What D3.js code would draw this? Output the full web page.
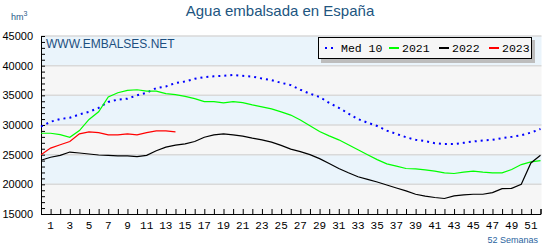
<!DOCTYPE html>
<html lang="es">
<head>
<meta charset="UTF-8">
<title>Agua embalsada en España</title>
<script src="https://d3js.org/d3.v7.min.js"></script>
<style>
    body { margin: 0; background: #fff; }
    svg { display: block; font-family: Arial, "Liberation Sans", sans-serif; }
    .mono { font-family: "Liberation Mono", "DejaVu Sans Mono", monospace; }
</style>
</head>
<body>
<svg width="560" height="250"></svg>
<script>
// weeks 0..52
const weeks = d3.range(0, 53);

const med10 = [29730, 30550, 31000, 31220, 31780, 32220, 32890, 33890, 34280, 34440,
    35000, 35440, 36220, 36500, 37060, 37330, 37780, 38060, 38220, 38280,
    38440, 38280, 38170, 37830, 37560, 37110, 36720, 35940, 35280, 34720,
    33720, 32890, 31940, 31000, 30390, 29830, 29060, 28500, 27940, 27500,
    27280, 26940, 26780, 26800, 27000, 27220, 27390, 27500, 27780, 28000,
    28280, 28720, 29330];

const y2021 = [28610, 28610, 28390, 27940, 29060, 30940, 32220, 34720, 35440, 35830,
    35940, 35720, 35720, 35280, 35110, 34830, 34440, 33940, 33940, 33720,
    33940, 33780, 33390, 33060, 32720, 32220, 31670, 30830, 29890, 28890,
    28170, 27500, 26670, 25830, 25000, 24170, 23450, 23060, 22670, 22610,
    22440, 22220, 21940, 21830, 22060, 22220, 22060, 21940, 21940, 22500,
    23330, 23780, 24000];

const y2022 = [24060, 24560, 24890, 25440, 25280, 25110, 24940, 24890, 24780, 24780,
    24670, 24890, 25670, 26280, 26610, 26830, 27220, 27940, 28330, 28500,
    28330, 28110, 27780, 27500, 27110, 26560, 25940, 25500, 25000, 24330,
    23500, 22670, 21940, 21280, 20830, 20390, 19890, 19390, 18890, 18330,
    18000, 17780, 17610, 18060, 18220, 18330, 18330, 18610, 19280, 19330,
    20000, 23610, 24900];

const y2023 = [25000, 26110, 26670, 27220, 28500, 28830, 28720, 28330, 28330, 28500,
    28330, 28720, 29000, 29000, 28830];

const yTicks = [15000, 20000, 25000, 30000, 35000, 40000, 45000];
const xLabels = d3.range(1, 52, 2);

const seriesNames = ["Med 10", "2021", "2022", "2023"];
const seriesColors = ["#0000ff", "#00ff00", "#000000", "#ff0000"];

const svg = d3.select("svg");

const x = d3.scaleLinear().domain([0, 52]).range([41, 540.5]);
const y = d3.scaleLinear().domain([15000, 45000]).range([214, 36]);

// alternating bands
const bands = d3.range(15000, 45000, 5000);
svg.selectAll("rect.band")
    .data(bands)
    .join("rect")
    .attr("class", "band")
    .attr("x", x(0))
    .attr("width", x(52) - x(0) + 1)
    .attr("y", d => y(d + 5000))
    .attr("height", d => y(d) - y(d + 5000))
    .attr("fill", (d, i) => i % 2 === 0 ? "#f6f6f6" : "#eaf4fb");

// gridlines
svg.selectAll("line.grid")
    .data(yTicks.slice(1))
    .join("line")
    .attr("class", "grid")
    .attr("x1", x(0))
    .attr("x2", x(52) + 1)
    .attr("y1", d => y(d))
    .attr("y2", d => y(d))
    .attr("stroke", "#d9d9d9")
    .attr("stroke-width", 1.5);

// y axis: minor ticks inside, labels outside
const yAxis = d3.axisRight(y)
    .tickValues(d3.range(15000, 45001, 1000))
    .tickSize(4)
    .tickFormat("");
svg.append("g")
    .attr("transform", `translate(${x(0)},0)`)
    .call(yAxis)
    .call(g => g.select(".domain").attr("stroke", "#000"))
    .call(g => g.selectAll(".tick line").attr("stroke", "#000"));

svg.selectAll("text.ylab")
    .data(yTicks)
    .join("text")
    .attr("class", "ylab")
    .attr("x", 33)
    .attr("y", d => y(d) + 4)
    .attr("text-anchor", "end")
    .attr("font-size", 11)
    .attr("fill", "#000")
    .text(d => d);

// x axis: weekly ticks pointing up
const xAxis = d3.axisTop(x)
    .tickValues(weeks)
    .tickSize(5)
    .tickFormat("");
svg.append("g")
    .attr("transform", `translate(0,${y(15000)})`)
    .call(xAxis)
    .call(g => g.select(".domain").attr("stroke", "#000"))
    .call(g => g.selectAll(".tick line").attr("stroke", "#000"));

svg.selectAll("text.xlab")
    .data(xLabels)
    .join("text")
    .attr("class", "xlab mono")
    .attr("x", d => x(d))
    .attr("y", 229)
    .attr("text-anchor", "middle")
    .attr("font-size", 11)
    .attr("fill", "#000")
    .text(d => d);

// lines
const line = d3.line()
    .x((d, i) => x(weeks[i]))
    .y(d => y(d));

const allSeries = [med10, y2021, y2022, y2023];
allSeries.forEach((s, i) => {
    svg.append("path")
        .datum(s)
        .attr("d", line)
        .attr("fill", "none")
        .attr("stroke", seriesColors[i])
        .attr("stroke-width", i === 0 ? 2 : 1.2)
        .attr("stroke-dasharray", i === 0 ? "2,4" : null);
});

// watermark
svg.append("text")
    .attr("x", 46)
    .attr("y", 48)
    .attr("font-size", 12)
    .attr("fill", "#1c4f80")
    .text("WWW.EMBALSES.NET");

// legend
const lg = svg.append("g");
lg.append("rect")
    .attr("x", 321).attr("y", 40)
    .attr("width", 214).attr("height", 23)
    .attr("fill", "#bdbdbd");
lg.append("rect")
    .attr("x", 318.5).attr("y", 37.5)
    .attr("width", 213).attr("height", 21)
    .attr("fill", "#f6f6f6")
    .attr("stroke", "#000");

const legendX = [325, 389, 439, 489];
seriesNames.forEach((name, i) => {
    lg.append("line")
        .attr("x1", legendX[i]).attr("x2", legendX[i] + (i === 0 ? 9 : 10))
        .attr("y1", 48).attr("y2", 48)
        .attr("stroke", seriesColors[i])
        .attr("stroke-width", 2)
        .attr("stroke-dasharray", i === 0 ? "2,4" : null);
    lg.append("text")
        .attr("class", "mono")
        .attr("x", legendX[i] + (i === 0 ? 16 : 13))
        .attr("y", 52)
        .attr("font-size", 11.5)
        .attr("fill", "#000")
        .text(name);
});

// title and labels
svg.append("text")
    .attr("x", 280)
    .attr("y", 16)
    .attr("text-anchor", "middle")
    .attr("font-size", 15)
    .attr("fill", "#21557f")
    .text("Agua embalsada en España");

const unit = svg.append("text")
    .attr("x", 11)
    .attr("y", 20)
    .attr("font-size", 9)
    .attr("fill", "#2a5a8a");
unit.append("tspan").text("hm");
unit.append("tspan").attr("dy", -4).attr("font-size", 7).text("3");

svg.append("text")
    .attr("x", 538)
    .attr("y", 243)
    .attr("text-anchor", "end")
    .attr("font-size", 9)
    .attr("fill", "#2a64a0")
    .text("52 Semanas");
</script>
</body>
</html>
